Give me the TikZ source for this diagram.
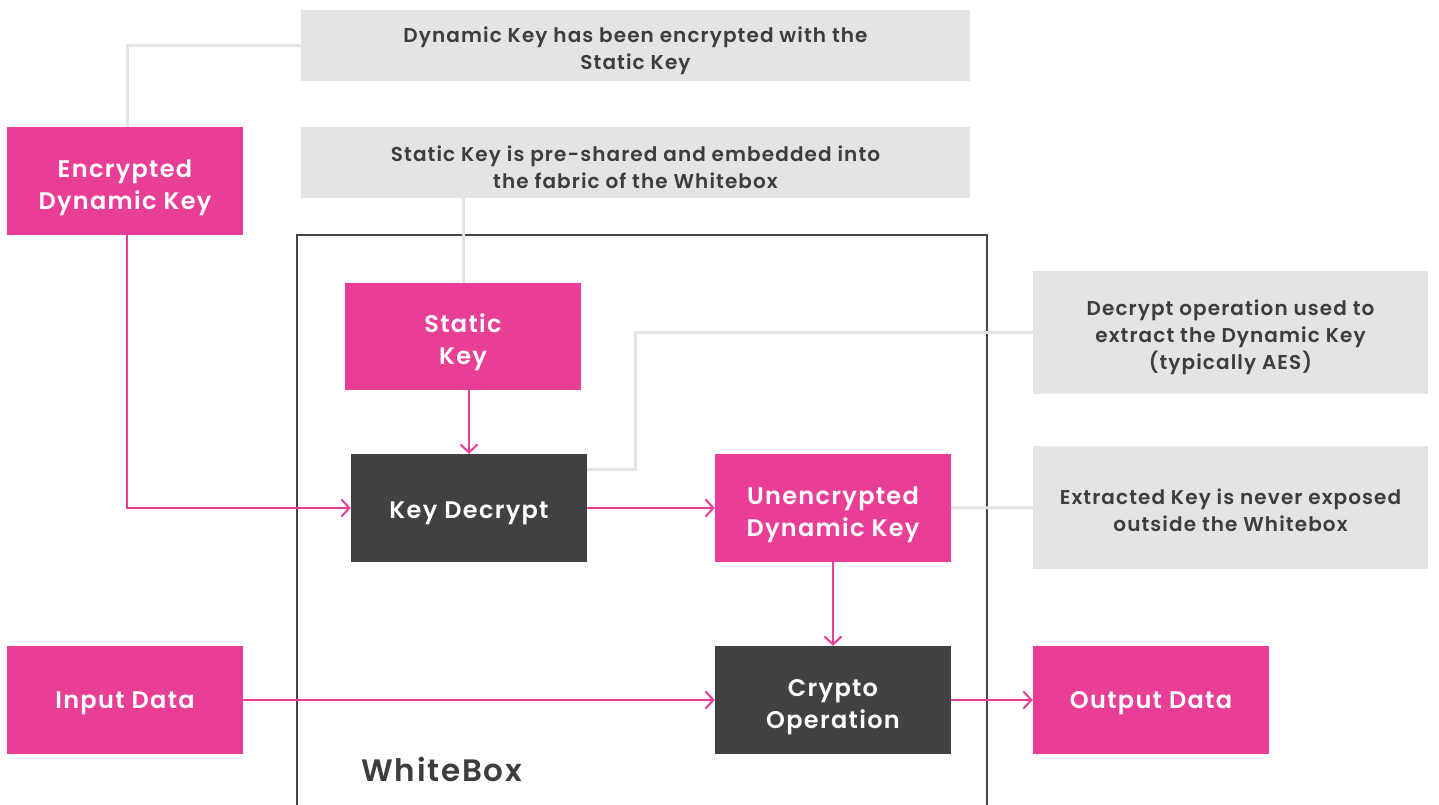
\documentclass[tikz,border=0pt]{standalone}
\usepackage{fontspec}
\setmainfont{Poppins}[UprightFont=* SemiBold, LetterSpace=5.5]
\usetikzlibrary{arrows.meta}
\definecolor{pinkc}{HTML}{E93E96}
\definecolor{darkc}{HTML}{414143}
\definecolor{grayf}{HTML}{E3E4E3}
\definecolor{txtc}{HTML}{3D3D3D}
\definecolor{framec}{HTML}{444444}
\newcommand\pst[1]{\rule{0pt}{#1pt}}
\tikzset{
  pbox/.style={fill=pinkc, text=white, inner sep=0pt, minimum width=236pt, minimum height=108pt, align=center, font=\fontsize{24}{32}\selectfont},
  dbox/.style={pbox, fill=darkc},
  gbox/.style={fill=grayf, text=txtc, inner sep=0pt, align=center, font=\fontsize{20}{27}\selectfont},
  gline/.style={draw=grayf, line width=3pt},
  parr/.style={draw=pinkc, line width=2pt, -{Straight Barb[length=8pt,width=17pt,line width=2pt]}},
}
\begin{document}
\begin{tikzpicture}[x=1pt,y=-1pt]
\useasboundingbox (0,0) rectangle (1439,804);
\node[draw=framec, line width=2pt, minimum width=690pt, minimum height=572pt, inner sep=0pt] (wb) at (642,521) {};
\node[text=txtc, font=\fontsize{31}{36}\selectfont, anchor=west] (wbl) at (358,769) {WhiteBox};
\node[gbox, minimum width=669pt, minimum height=71pt] (g1) at (635.5,45.5) {\pst{26}Dynamic Key has been encrypted with the\\Static Key};
\node[gbox, minimum width=669pt, minimum height=71pt] (g2) at (635.5,162.5) {\pst{26}Static Key is pre-shared and embedded into\\the fabric of the Whitebox};
\node[gbox, minimum width=395pt, minimum height=123pt] (g3) at (1230.5,332.5) {\pst{25}Decrypt operation used to\\extract the Dynamic Key\\(typically AES)};
\node[gbox, minimum width=395pt, minimum height=123pt] (g4) at (1230.5,507.5) {\pst{21}Extracted Key is never exposed\\outside the Whitebox};
\node[pbox] (enc) at (125,181) {\pst{31}Encrypted\\Dynamic Key};
\node[pbox, minimum height=107pt] (stat) at (463,336.5) {\pst{31}Static\\Key};
\node[dbox] (kd) at (469,508) {\pst{28}Key Decrypt};
\node[pbox] (unenc) at (833,508) {\pst{31}Unencrypted\\Dynamic Key};
\node[pbox] (inp) at (125,700) {\pst{24}Input Data};
\node[dbox] (cry) at (833,700) {\pst{31}Crypto\\Operation};
\node[pbox] (out) at (1151,700) {\pst{24}Output Data};
% gray connectors
\draw[gline] (g1.west) -| ([xshift=2pt]enc.north);
\draw[gline] (g2.south -| stat.north) -- (stat.north);
\draw[gline] ([yshift=39pt]kd.east) -- ++(48,0) |- (g3.west);
\draw[gline] (unenc.east) -- (g4.west);
% pink arrows
\draw[parr] (stat.south -| kd.north) -- (kd.north);
\draw[parr] ([xshift=2pt]enc.south) |- (kd.west);
\draw[parr] (kd.east) -- (unenc.west);
\draw[parr] (unenc.south) -- (cry.north);
\draw[parr] (inp.east) -- (cry.west);
\draw[parr] (cry.east) -- (out.west);
\end{tikzpicture}
\end{document}
